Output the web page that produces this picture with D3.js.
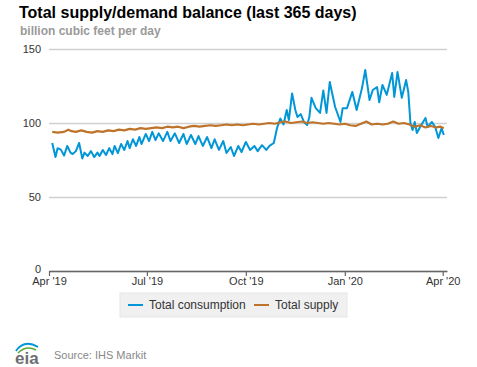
<!DOCTYPE html>
<html>
<head>
<meta charset="utf-8">
<script src="https://cdn.jsdelivr.net/npm/d3@7"></script>
<style>
  body { margin: 0; background: #fff; }
  svg { font-family: Arial, "Liberation Sans", sans-serif; display: block; }
</style>
</head>
<body>
<div id="chart"></div>
<script>
// days counted from Apr 1 2019
const startDate = new Date(2019, 3, 1);

const consumptionDay = [3, 6, 8, 11, 14, 17, 20, 22, 25, 28, 31, 33, 36, 39, 42, 45, 47, 50, 53, 56,
  59, 61, 64, 67, 70, 73, 75, 78, 81, 84, 86, 90, 93, 96, 99, 102, 106, 110, 113, 117,
  121, 125, 128, 132, 136, 139, 143, 147, 151, 154, 158, 162, 165, 169, 172, 176, 179, 183, 187, 191,
  194, 198, 202, 205, 209, 212, 215, 218, 221, 223, 226, 229, 231, 234, 237, 240, 242, 244, 248, 252,
  255, 258, 261, 266, 271, 273, 277, 282, 286, 291, 294, 298, 301, 305, 307, 310, 314, 319, 321, 324,
  328, 332, 334, 336, 338, 340, 342, 345, 350, 352, 356, 359, 362, 365, 367];
const consumptionValue = [86.5, 77, 83, 82, 78, 84.5, 80, 79, 81, 86.5, 76, 80, 77.7, 81, 77, 80, 77.7, 81.8, 78.4, 83,
  79, 84.5, 79.7, 85.8, 81.8, 87.8, 83, 89, 84.5, 90.5, 85.8, 92.6, 87.8, 94, 88.5, 93, 87.8, 94, 87.8, 93,
  86.5, 92.6, 85.8, 91.9, 85.8, 91.2, 84.5, 90.5, 83, 89, 81.8, 87.8, 79.7, 83.8, 77.7, 84.5, 80.4, 87.2, 81.8, 84.5,
  81, 85, 81.8, 84.5, 86.5, 96.6, 103, 99, 108.8, 102, 120, 108.8, 104, 106, 100.7, 98.6, 104, 117, 110, 106.8,
  122, 106.8, 127.7, 110.8, 100.7, 110, 110, 121, 108.8, 123.6, 135.8, 115.5, 122.3, 124.3, 114, 125.7, 119, 133.8, 117.6, 134.5,
  117, 129, 121, 100, 95.3, 100.7, 93.2, 97.3, 103.4, 97.3, 100.7, 97.3, 89.9, 96.6, 91.9];

const supplyDay = [3, 8, 14, 18, 21, 25, 30, 35, 40, 45, 50, 55, 60, 65, 70, 75, 80, 85, 90, 95,
  100, 105, 110, 115, 120, 125, 130, 135, 140, 145, 150, 155, 160, 165, 170, 175, 180, 185, 190, 195,
  200, 205, 210, 215, 220, 225, 230, 235, 240, 245, 250, 255, 260, 265, 270, 275, 280, 285, 290, 295,
  300, 305, 310, 315, 320, 325, 330, 335, 340, 345, 350, 355, 360, 364, 367];
const supplyValue = [94, 93.5, 94, 95.5, 94.5, 94, 95, 94, 93.5, 94.5, 94, 95, 94.5, 95.5, 95, 96, 95.5, 96.5, 96, 96.5,
  97, 96.5, 97.5, 97, 97.5, 96.5, 97.5, 98, 97.5, 98, 98.5, 98, 98.5, 99, 98.5, 99, 98.5, 99, 99.5, 99,
  99.5, 100, 99.5, 100.5, 101, 100, 100.5, 101, 100, 100.5, 100, 99.5, 100, 99.5, 99, 99.5, 98.5, 98, 99.5, 101,
  99, 99.5, 99, 99.5, 101, 99.5, 100, 99, 97.5, 98.5, 97, 98, 97, 97.5, 96.5];

const yTicks = [0, 50, 100, 150];
const seriesNames = ['Total consumption', 'Total supply'];
const seriesColors = ['#0096d7', '#bd732a'];

const width = 477, height = 367;
const margin = { top: 49, right: 30, bottom: 96, left: 49 };

const toDate = (d) => d3.timeDay.offset(startDate, d);
const consumption = consumptionDay.map((d, i) => ({ date: toDate(d), value: consumptionValue[i] }));
const supply = supplyDay.map((d, i) => ({ date: toDate(d), value: supplyValue[i] }));

const x = d3.scaleTime()
    .domain([startDate, new Date(2020, 3, 5)])
    .range([margin.left, width - margin.right]);

const y = d3.scaleLinear()
    .domain([0, 150])
    .range([height - margin.bottom, margin.top]);

const svg = d3.select('#chart').append('svg')
    .attr('width', width)
    .attr('height', height);

svg.append('text')
    .attr('x', 19)
    .attr('y', 18)
    .style('font-size', '16px')
    .style('font-weight', 'bold')
    .attr('fill', '#000')
    .text('Total supply/demand balance (last 365 days)');

svg.append('text')
    .attr('x', 20)
    .attr('y', 35)
    .style('font-size', '12px')
    .style('font-weight', 'bold')
    .attr('fill', '#9a9a9a')
    .text('billion cubic feet per day');

// gridlines + y labels
const yAxis = d3.axisLeft(y)
    .tickValues(yTicks)
    .tickSize(-(width - margin.left - margin.right))
    .tickPadding(8);

svg.append('g')
    .attr('transform', `translate(${margin.left},0)`)
    .call(yAxis)
    .call((g) => g.select('.domain').remove())
    .call((g) => g.selectAll('.tick line').attr('stroke', '#d0d0d0').attr('stroke-width', 1.5))
    .call((g) => g.selectAll('.tick text')
        .attr('fill', '#333')
        .style('font-size', '11px')
        .attr('dy', (d) => d === 0 ? '0.1em' : '0.32em'));

const xAxis = d3.axisBottom(x)
    .ticks(d3.timeMonth.every(3))
    .tickFormat(d3.timeFormat("%b '%y"))
    .tickSize(5)
    .tickSizeOuter(0)
    .tickPadding(1);

svg.append('g')
    .attr('transform', `translate(0,${height - margin.bottom})`)
    .call(xAxis)
    .call((g) => g.select('.domain').attr('stroke', '#666').attr('stroke-width', 1.5))
    .call((g) => g.selectAll('.tick line').attr('stroke', '#666').attr('stroke-width', 1.2))
    .call((g) => g.selectAll('.tick text').attr('fill', '#333').style('font-size', '11px'));

const line = d3.line()
    .x((d) => x(d.date))
    .y((d) => y(d.value));

svg.append('path')
    .datum(consumption)
    .attr('fill', 'none')
    .attr('stroke', seriesColors[0])
    .attr('stroke-width', 2)
    .attr('stroke-linejoin', 'round')
    .attr('d', line);

svg.append('path')
    .datum(supply)
    .attr('fill', 'none')
    .attr('stroke', seriesColors[1])
    .attr('stroke-width', 2.2)
    .attr('stroke-linejoin', 'round')
    .attr('d', line);

// legend
const legend = svg.append('g').attr('transform', 'translate(120,293)');
legend.append('rect')
    .attr('width', 227)
    .attr('height', 24)
    .attr('fill', '#f0f0f0')
    .attr('stroke', '#e6e6e6');

const legendX = [8, 134];
seriesNames.forEach((name, i) => {
  const item = legend.append('g').attr('transform', `translate(${legendX[i]},12)`);
  item.append('line')
      .attr('x1', 0).attr('x2', 15)
      .attr('stroke', seriesColors[i])
      .attr('stroke-width', 2);
  item.append('text')
      .attr('x', 21)
      .attr('dy', '0.35em')
      .attr('fill', '#333')
      .style('font-size', '12px')
      .text(name);
});

// footer: eia logo + source
const logo = svg.append('g').attr('transform', 'translate(14,345)');
logo.append('path')
    .attr('d', 'M2,6 Q10,-6 24,2')
    .attr('fill', 'none')
    .attr('stroke', '#0096d7')
    .attr('stroke-width', 2);
logo.append('path')
    .attr('d', 'M4,8 Q12,0 22,5')
    .attr('fill', 'none')
    .attr('stroke', '#5aa832')
    .attr('stroke-width', 1.5);
logo.append('text')
    .attr('x', 1)
    .attr('y', 19)
    .attr('fill', '#6d6e71')
    .style('font-size', '17px')
    .style('font-weight', 'bold')
    .text('eia');

svg.append('text')
    .attr('x', 54)
    .attr('y', 359)
    .attr('fill', '#888')
    .style('font-size', '11px')
    .text('Source: IHS Markit');
</script>
</body>
</html>
